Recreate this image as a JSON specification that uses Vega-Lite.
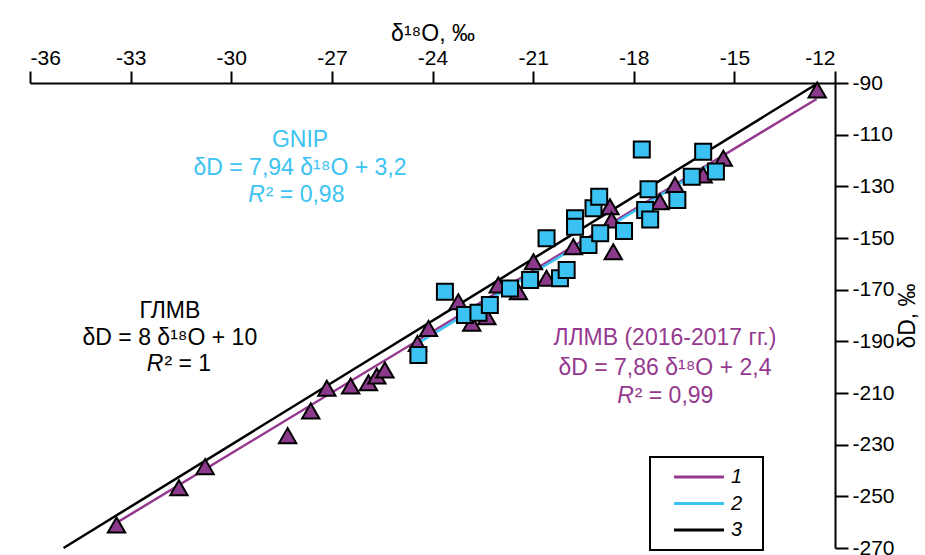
{
  "$schema": "https://vega.github.io/schema/vega-lite/v6.json",
  "width": 805,
  "height": 465,
  "autosize": {"type": "none"},
  "padding": {"left": 30, "top": 83, "right": 90, "bottom": 7},
  "background": "white",
  "config": {
    "font": "Liberation Sans",
    "view": {"stroke": null},
    "axis": {
      "grid": false,
      "domainColor": "black",
      "domainWidth": 2,
      "tickColor": "black",
      "tickWidth": 2,
      "labelColor": "black",
      "titleColor": "black",
      "labelFont": "Liberation Sans",
      "titleFont": "Liberation Sans",
      "labelFontSize": 21,
      "titleFontSize": 23,
      "titleFontWeight": "normal",
      "labelExpr": "replace(datum.label, '−', '-')"
    },
    "legend": {"strokeWidth": 2}
  },
  "datasets": {
    "lines": [
      {"s": "1", "x": -33.35, "y": -259.7},
      {"s": "1", "x": -12.55, "y": -96.2},
      {"s": "2", "x": -24.4, "y": -190.5},
      {"s": "2", "x": -15.7, "y": -121.5},
      {"s": "3", "x": -35.0, "y": -270},
      {"s": "3", "x": -12.5, "y": -90}
    ],
    "lmwl": [
      {"x": -12.53, "y": -92.7},
      {"x": -33.42, "y": -261.1},
      {"x": -31.56, "y": -246.7},
      {"x": -30.78, "y": -238.5},
      {"x": -28.32, "y": -226.5},
      {"x": -27.63, "y": -217.0},
      {"x": -27.15, "y": -208.2},
      {"x": -26.44, "y": -207.3},
      {"x": -25.91, "y": -206.0},
      {"x": -25.66, "y": -203.4},
      {"x": -25.42, "y": -201.1},
      {"x": -24.12, "y": -185.0},
      {"x": -24.45, "y": -190.8},
      {"x": -23.23, "y": -174.7},
      {"x": -22.83, "y": -183.0},
      {"x": -22.38, "y": -180.5},
      {"x": -22.04, "y": -168.2},
      {"x": -21.44, "y": -170.8},
      {"x": -20.99, "y": -159.2},
      {"x": -20.6, "y": -165.6},
      {"x": -19.8, "y": -153.4},
      {"x": -18.71, "y": -137.9},
      {"x": -18.66, "y": -143.0},
      {"x": -18.61, "y": -155.3},
      {"x": -17.22, "y": -136.0},
      {"x": -16.77, "y": -129.5},
      {"x": -15.93, "y": -125.6},
      {"x": -15.33, "y": -119.1}
    ],
    "gnip": [
      {"x": -24.42, "y": -195.3},
      {"x": -23.63, "y": -170.8},
      {"x": -23.03, "y": -179.8},
      {"x": -22.63, "y": -178.9},
      {"x": -22.29, "y": -175.9},
      {"x": -21.69, "y": -169.5},
      {"x": -21.09, "y": -166.3},
      {"x": -20.6, "y": -150.1},
      {"x": -20.2, "y": -165.6},
      {"x": -20.0, "y": -162.4},
      {"x": -19.75, "y": -142.4},
      {"x": -19.75, "y": -145.6},
      {"x": -19.35, "y": -152.7},
      {"x": -19.2, "y": -138.5},
      {"x": -19.03, "y": -134.0},
      {"x": -19.0, "y": -148.2},
      {"x": -18.29, "y": -147.3},
      {"x": -17.76, "y": -115.7},
      {"x": -17.56, "y": -131.1},
      {"x": -17.66, "y": -139.2},
      {"x": -17.51, "y": -142.8},
      {"x": -16.7, "y": -135.3},
      {"x": -16.27, "y": -126.3},
      {"x": -15.93, "y": -116.6},
      {"x": -15.55, "y": -124.3}
    ],
    "notes": [
      {"s": "2", "part": "line", "txt": "GNIP", "x": -27.95, "y": -112.1},
      {"s": "2", "part": "line", "txt": "δD = 7,94 δ¹⁸O + 3,2", "x": -27.95, "y": -122.9},
      {"s": "2", "part": "R", "txt": "R", "x": -29.0, "y": -133.4},
      {"s": "2", "part": "rest", "txt": "² = 0,98", "x": -29.0, "y": -133.4},
      {"s": "3", "part": "line", "txt": "ГЛМВ", "x": -31.83, "y": -178.3},
      {"s": "3", "part": "line", "txt": "δD = 8 δ¹⁸O + 10", "x": -31.83, "y": -188.7},
      {"s": "3", "part": "R", "txt": "R", "x": -32.02, "y": -198.8},
      {"s": "3", "part": "rest", "txt": "² = 1", "x": -32.02, "y": -198.8},
      {"s": "1", "part": "line", "txt": "ЛЛМВ (2016-2017 гг.)", "x": -17.07, "y": -188.9},
      {"s": "1", "part": "line", "txt": "δD = 7,86 δ¹⁸O + 2,4", "x": -17.07, "y": -200.3},
      {"s": "1", "part": "R", "txt": "R", "x": -18.0, "y": -211.0},
      {"s": "1", "part": "rest", "txt": "² = 0,99", "x": -18.0, "y": -211.0}
    ]
  },
  "encoding": {
    "x": {
      "field": "x",
      "type": "quantitative",
      "scale": {"domain": [-36, -12], "nice": false, "zero": false},
      "axis": {
        "orient": "top",
        "values": [-36, -33, -30, -27, -24, -21, -18, -15, -12],
        "title": "δ¹⁸O, ‰",
        "tickSize": 12,
        "labelPadding": 3,
        "titlePadding": 2
      }
    },
    "y": {
      "field": "y",
      "type": "quantitative",
      "scale": {"domain": [-270, -90], "nice": false, "zero": false},
      "axis": {
        "orient": "right",
        "values": [-90, -110, -130, -150, -170, -190, -210, -230, -250, -270],
        "title": "δD, ‰",
        "titleAngle": 270,
        "titleBaseline": "top",
        "tickSize": 13,
        "labelPadding": 4,
        "titlePadding": 2
      }
    }
  },
  "layer": [
    {
      "data": {"name": "lines"},
      "mark": {"type": "line", "strokeWidth": 2.5},
      "encoding": {
        "color": {
          "field": "s",
          "type": "nominal",
          "scale": {"domain": ["1", "2", "3"], "range": ["#95398f", "#3cc3f2", "#000000"]},
          "legend": {
            "title": null,
            "orient": "none",
            "legendX": 620,
            "legendY": 374,
            "symbolType": "M-4,0H4M7.6,0",
            "symbolSize": 156,
            "symbolStrokeWidth": 3,
            "symbolOffset": 29,
            "labelFontSize": 20,
            "labelFontStyle": "italic",
            "labelFont": "Liberation Sans",
            "labelColor": "black",
            "labelOffset": 22,
            "rowPadding": 6.5,
            "padding": 10,
            "strokeColor": "black",
            "fillColor": "white"
          }
        }
      }
    },
    {
      "data": {"name": "lmwl"},
      "mark": {"type": "point", "shape": "triangle-up", "filled": true, "fill": "#8b3a8b", "stroke": "black", "strokeWidth": 2, "size": 300, "opacity": 1}
    },
    {
      "data": {"name": "gnip"},
      "mark": {"type": "point", "shape": "square", "filled": true, "fill": "#3bc2f2", "stroke": "black", "strokeWidth": 2, "size": 256, "opacity": 1}
    },
    {
      "data": {"name": "notes"},
      "transform": [{"filter": "datum.part === 'line'"}],
      "mark": {"type": "text", "fontSize": 23, "align": "center", "baseline": "middle", "font": "Liberation Sans"},
      "encoding": {
        "text": {"field": "txt"},
        "color": {"field": "s", "type": "nominal", "legend": null}
      }
    },
    {
      "data": {"name": "notes"},
      "transform": [{"filter": "datum.part === 'R'"}],
      "mark": {"type": "text", "fontSize": 23, "align": "right", "baseline": "middle", "fontStyle": "italic", "font": "Liberation Sans"},
      "encoding": {
        "text": {"field": "txt"},
        "color": {"field": "s", "type": "nominal", "legend": null}
      }
    },
    {
      "data": {"name": "notes"},
      "transform": [{"filter": "datum.part === 'rest'"}],
      "mark": {"type": "text", "fontSize": 23, "align": "left", "baseline": "middle", "dx": 1, "font": "Liberation Sans"},
      "encoding": {
        "text": {"field": "txt"},
        "color": {"field": "s", "type": "nominal", "legend": null}
      }
    }
  ]
}
